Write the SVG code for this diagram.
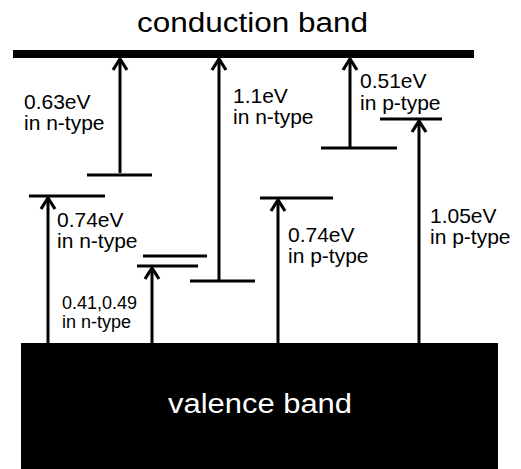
<svg xmlns="http://www.w3.org/2000/svg" width="521" height="469" viewBox="0 0 521 469">
<style>
text{font-family:"Liberation Sans",Arial,sans-serif;fill:#000}
.lbl{font-size:21px}
.sm{font-size:18px}
.band{font-size:27px}
.lvl{stroke:#000;stroke-width:3;fill:none}
.arr{stroke:#000;stroke-width:3;fill:none;marker-end:url(#head)}
</style>
<defs>
<marker id="head" markerUnits="userSpaceOnUse" orient="auto" refX="0" refY="0" markerWidth="20" markerHeight="20" overflow="visible">
<path d="M-11,-7 L0,0 L-11,7" stroke="#000" stroke-width="3.2" fill="none" stroke-linejoin="miter"/>
</marker>
</defs>
<rect width="521" height="469" fill="#fff"/>
<g id="conduction-band">
<rect x="13" y="50" width="461" height="8" fill="#000"/>
<text class="band" x="137" y="32" textLength="231" lengthAdjust="spacingAndGlyphs">conduction band</text>
</g>
<g id="valence-band">
<rect x="21" y="343" width="477" height="126" fill="#000"/>
<text class="band" x="168" y="413" textLength="184" lengthAdjust="spacingAndGlyphs" style="fill:#fff">valence band</text>
</g>
<g id="levels">
<line id="lvl-063n" class="lvl" x1="87" y1="175" x2="152" y2="175"/>
<line id="lvl-11n" class="lvl" x1="190" y1="281" x2="255" y2="281"/>
<line id="lvl-051p" class="lvl" x1="321" y1="148" x2="397" y2="148"/>
<line id="lvl-105p" class="lvl" x1="380" y1="119" x2="442" y2="119"/>
<line id="lvl-074p" class="lvl" x1="260" y1="198" x2="333" y2="198"/>
<line id="lvl-074n" class="lvl" x1="29" y1="196" x2="105" y2="196"/>
<line id="lvl-041n" class="lvl" x1="143" y1="256" x2="207" y2="256"/>
<line id="lvl-049n" class="lvl" x1="137" y1="266" x2="198" y2="266"/>
</g>
<g id="connectors">
<line class="arr" x1="120" y1="173" x2="120" y2="59"/>
<line class="arr" x1="219" y1="280" x2="219" y2="59"/>
<line class="arr" x1="350" y1="147" x2="350" y2="59"/>
<line class="arr" x1="419" y1="343" x2="419" y2="121"/>
<line class="arr" x1="278" y1="343" x2="278" y2="200"/>
<line class="arr" x1="48" y1="343" x2="48" y2="198"/>
<line class="arr" x1="152" y1="343" x2="152" y2="268"/>
</g>
<g id="labels">
<text class="lbl" x="24" y="109">0.63eV</text>
<text class="lbl" x="24" y="130">in n-type</text>
<text class="lbl" x="233" y="103">1.1eV</text>
<text class="lbl" x="233" y="124">in n-type</text>
<text class="lbl" x="360" y="88">0.51eV</text>
<text class="lbl" x="360" y="110">in p-type</text>
<text class="lbl" x="430" y="223">1.05eV</text>
<text class="lbl" x="430" y="244">in p-type</text>
<text class="lbl" x="288" y="242">0.74eV</text>
<text class="lbl" x="288" y="263">in p-type</text>
<text class="lbl" x="57" y="227">0.74eV</text>
<text class="lbl" x="57" y="248">in n-type</text>
<text class="sm" x="62" y="309">0.41,0.49</text>
<text class="sm" x="62" y="328">in n-type</text>
</g>
</svg>
